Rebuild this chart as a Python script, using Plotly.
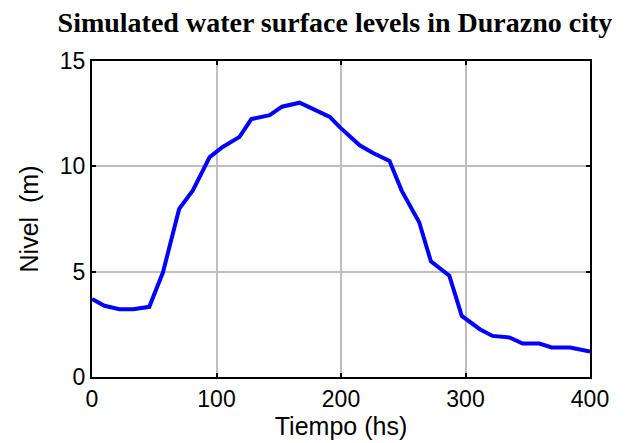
import plotly.graph_objects as go

tiempo = [0, 10, 22, 33, 46, 57, 70, 81, 94.5, 105, 118.5, 128, 142.7, 152.6, 166.8,
          178.9, 191, 199, 215, 225.7, 239, 248.6, 262.8, 272.2, 287, 297, 311.5,
          321.7, 335.7, 345.9, 359.3, 369.2, 384, 400]
nivel = [3.70, 3.38, 3.22, 3.22, 3.33, 4.97, 7.98, 8.86, 10.44, 10.92, 11.40, 12.24, 12.43,
         12.83, 13.02, 12.67, 12.35, 11.86, 11.0, 10.63, 10.25, 8.86, 7.35, 5.49, 4.81,
         2.90, 2.27, 1.95, 1.87, 1.59, 1.59, 1.40, 1.40, 1.21]

x_ticks = [0, 100, 200, 300, 400]
y_ticks = [0, 5, 10, 15]

fig = go.Figure()
fig.add_trace(go.Scatter(x=tiempo, y=nivel, mode="lines",
                         line=dict(color="#0000FF", width=4), showlegend=False))

sans = "Liberation Sans, Arial, sans-serif"
axis_common = dict(showline=True, linecolor="black", linewidth=2, mirror="ticks",
                   ticks="inside", ticklen=4, tickwidth=2, tickcolor="black",
                   showgrid=True, gridcolor="#BEBEBE", gridwidth=1.5, zeroline=False,
                   automargin=False,
                   tickfont=dict(family=sans, size=23, color="black"))

# page body has an 8px margin, so the figure is sized to fit the window
fig.update_layout(
    width=636, height=435,
    margin=dict(l=84, r=54, t=53, b=66),
    paper_bgcolor="white", plot_bgcolor="white",
    title=dict(text="<b>Simulated water surface levels in Durazno city</b>",
               x=0.078, xanchor="left", y=0.968, yanchor="middle",
               font=dict(family="Liberation Serif, serif", size=28, color="black")),
    xaxis=dict(range=[0, 400], tickvals=x_ticks, **axis_common,
               title=dict(text="Tiempo (hs)", standoff=4,
                          font=dict(family=sans, size=25, color="black"))),
    yaxis=dict(range=[0, 15], tickvals=y_ticks, **axis_common,
               title=dict(text="Nivel  (m)", standoff=14,
                          font=dict(family=sans, size=25, color="black"))),
)

fig.write_html("out.html")
